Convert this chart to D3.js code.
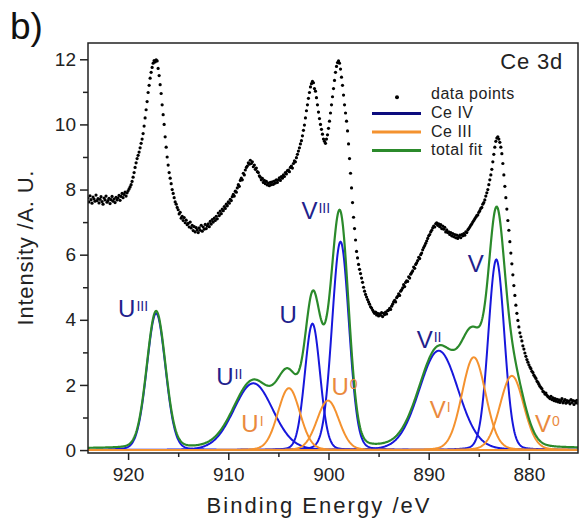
<!DOCTYPE html>
<html lang="en">
<head>
<meta charset="UTF-8">
<title>Ce 3d XPS fit</title>
<script src="https://d3js.org/d3.v7.min.js"></script>
<style>
    body {
        margin: 0;
        background: #fff;
        font-family: Arial, "Liberation Sans", sans-serif;
    }
    svg { display: block; }
    .axis text { font-size: 19px; fill: #222; font-family: Arial, "Liberation Sans", sans-serif; }
    .axis line { stroke: #222; stroke-width: 1.5px; }
</style>
</head>
<body>
<div id="chart"></div>
<script>
    // measured spectrum, one point every 0.1 eV from 924 eV downwards
    const startEnergy = 924;
    const energyStep = 0.1;
    const intensity = [
        7.74, 7.62, 7.81, 7.69, 7.58, 7.77, 7.71, 7.64, 7.83, 7.66,
        7.72, 7.59, 7.70, 7.78, 7.63, 7.55, 7.74, 7.68, 7.80, 7.61,
        7.66, 7.73, 7.57, 7.69, 7.79, 7.64, 7.71, 7.60, 7.76, 7.68,
        7.74, 7.82, 7.67, 7.79, 7.88, 7.75, 7.85, 7.92, 7.80, 7.90,
        7.96, 8.02, 8.08, 8.15, 8.25, 8.38, 8.52, 8.68, 8.82, 8.95,
        9.05, 9.15, 9.28, 9.42, 9.55, 9.72, 9.95, 10.20, 10.45, 10.70,
        10.98, 11.20, 11.42, 11.60, 11.75, 11.88, 11.96, 11.92, 11.98, 11.95,
        11.72, 11.50, 11.22, 10.95, 10.60, 10.30, 10.00, 9.62, 9.30, 9.00,
        8.75, 8.52, 8.35, 8.18, 8.00, 7.88, 7.75, 7.62, 7.55, 7.45,
        7.38, 7.25, 7.30, 7.12, 7.18, 7.05, 7.14, 6.98, 7.06, 6.92,
        6.96, 6.85, 7.00, 6.82, 6.90, 6.74, 6.86, 6.70, 6.83, 6.76,
        6.68, 6.82, 6.75, 6.90, 6.72, 6.85, 6.78, 6.93, 6.80, 6.88,
        6.95, 6.86, 7.02, 6.94, 7.08, 7.00, 7.12, 7.05, 7.18, 7.10,
        7.28, 7.20, 7.34, 7.26, 7.40, 7.35, 7.48, 7.42, 7.55, 7.50,
        7.62, 7.58, 7.70, 7.66, 7.78, 7.85, 7.80, 7.95, 7.92, 8.05,
        8.15, 8.10, 8.28, 8.35, 8.30, 8.50, 8.45, 8.60, 8.68, 8.72,
        8.82, 8.78, 8.90, 8.80, 8.85, 8.70, 8.75, 8.62, 8.66, 8.55,
        8.52, 8.42, 8.38, 8.30, 8.34, 8.22, 8.28, 8.18, 8.25, 8.14,
        8.20, 8.12, 8.22, 8.15, 8.24, 8.16, 8.26, 8.20, 8.30, 8.22,
        8.30, 8.36, 8.28, 8.40, 8.35, 8.45, 8.40, 8.52, 8.48, 8.58,
        8.60, 8.55, 8.68, 8.72, 8.66, 8.80, 8.88, 8.85, 8.98, 9.08,
        9.18, 9.28, 9.40, 9.50, 9.65, 9.82, 9.98, 10.20, 10.42, 10.60,
        10.80, 10.98, 11.15, 11.25, 11.32, 11.28, 11.10, 11.02, 10.82, 10.60,
        10.38, 10.18, 10.00, 9.85, 9.70, 9.55, 9.48, 9.42, 9.55, 9.68,
        9.88, 10.10, 10.35, 10.60, 10.85, 11.10, 11.35, 11.60, 11.78, 11.90,
        11.95, 11.88, 11.70, 11.45, 11.20, 10.90, 10.60, 10.35, 10.10, 9.80,
        9.40, 8.95, 8.50, 8.05, 7.60, 7.15, 6.80, 6.45, 6.10, 5.90,
        5.70, 5.55, 5.42, 5.28, 5.15, 5.00, 4.88, 4.78, 4.70, 4.62,
        4.55, 4.48, 4.40, 4.36, 4.30, 4.25, 4.20, 4.24, 4.15, 4.20,
        4.12, 4.18, 4.14, 4.22, 4.10, 4.20, 4.16, 4.24, 4.18, 4.28,
        4.30, 4.35, 4.32, 4.42, 4.48, 4.55, 4.60, 4.55, 4.68, 4.72,
        4.80, 4.75, 4.88, 4.92, 4.98, 5.08, 5.02, 5.15, 5.20, 5.18,
        5.32, 5.28, 5.40, 5.45, 5.50, 5.62, 5.58, 5.70, 5.75, 5.82,
        5.92, 5.88, 6.00, 6.05, 6.15, 6.22, 6.28, 6.35, 6.42, 6.50,
        6.58, 6.62, 6.70, 6.75, 6.82, 6.88, 6.85, 6.95, 6.98, 6.90,
        6.95, 6.86, 6.92, 6.80, 6.88, 6.78, 6.84, 6.70, 6.76, 6.68,
        6.70, 6.62, 6.68, 6.58, 6.65, 6.55, 6.62, 6.52, 6.60, 6.50,
        6.55, 6.60, 6.52, 6.62, 6.58, 6.65, 6.60, 6.70, 6.68, 6.76,
        6.80, 6.85, 6.90, 6.95, 7.00, 7.05, 7.10, 7.15, 7.20, 7.22,
        7.30, 7.35, 7.42, 7.45, 7.55, 7.60, 7.68, 7.80, 7.90, 8.00,
        8.15, 8.30, 8.45, 8.62, 8.85, 9.08, 9.30, 9.48, 9.58, 9.62,
        9.55, 9.45, 9.30, 9.10, 8.80, 8.45, 8.10, 7.75, 7.40, 7.05,
        6.75, 6.40, 6.05, 5.72, 5.38, 5.05, 4.75, 4.45, 4.20, 3.98,
        3.78, 3.60, 3.48, 3.35, 3.20, 3.10, 2.98, 2.88, 2.78, 2.70,
        2.62, 2.55, 2.50, 2.42, 2.38, 2.30, 2.25, 2.20, 2.12, 2.08,
        2.02, 1.96, 1.92, 1.88, 1.80, 1.78, 1.72, 1.75, 1.68, 1.64,
        1.62, 1.58, 1.65, 1.55, 1.60, 1.52, 1.58, 1.50, 1.56, 1.48,
        1.54, 1.46, 1.52, 1.58, 1.45, 1.50, 1.55, 1.44, 1.52, 1.47,
        1.50, 1.42, 1.55, 1.46, 1.52, 1.40, 1.50, 1.45, 1.53, 1.44,
        1.48
    ];

    // fitted components (pseudo-Voigt peaks)
    const peakBase   = ["U", "U", "U", "U", "U", "V", "V", "V", "V", "V"];
    const peakSup    = ["III", "II", "I", "", "0", "III", "II", "I", "", "0"];
    const peakState  = ["IV", "IV", "III", "IV", "III", "IV", "IV", "III", "IV", "III"];
    const peakCenter = [917.2, 907.5, 903.95, 901.6, 900.05, 898.8, 889.0, 885.5, 883.25, 881.7];
    const peakHeight = [4.2, 2.05, 1.9, 3.88, 1.52, 6.4, 3.05, 2.85, 5.85, 2.28];
    const peakFwhm   = [2.2, 4.6, 2.6, 1.8, 2.6, 2.0, 4.6, 2.8, 1.9, 2.8];
    const lorentzShare = 0.1;
    const fitOffset = 0.05;

    const xTicks = [920, 910, 900, 890, 880];
    const xMinorTicks = [915, 905, 895, 885];
    const yTicks = [0, 2, 4, 6, 8, 10, 12];
    const yMinorTicks = [1, 3, 5, 7, 9, 11];
    const legendLabels = ["data points", "Ce IV", "Ce III", "total fit"];

    const width = 581, height = 523;
    const plot = { left: 88, right: 578, top: 43, bottom: 453 };

    const colors = {
        IV: "#1717dc", III: "#f4922f", total: "#2b8a2b",
        IVtext: "#21218c", IIItext: "#ea8a3e", legendIV: "#0c0c7e"
    };

    const svg = d3.select("#chart").append("svg")
        .attr("width", width).attr("height", height);

    const x = d3.scaleLinear().domain([924, 875.1]).range([plot.left, plot.right]);
    const y = d3.scaleLinear().domain([-0.09, 12.5]).range([plot.bottom, plot.top]);

    svg.append("defs").append("clipPath").attr("id", "clip")
        .append("rect")
        .attr("x", plot.left).attr("y", plot.top)
        .attr("width", plot.right - plot.left).attr("height", plot.bottom - plot.top);

    function peakValue(i, e) {
        const r = (e - peakCenter[i]) / (peakFwhm[i] / 2);
        const g = Math.exp(-Math.LN2 * r * r);
        const l = 1 / (1 + r * r);
        return peakHeight[i] * ((1 - lorentzShare) * g + lorentzShare * l);
    }

    const grid = d3.range(924, 875.05, -0.05);
    const line = d3.line().x(d => x(d[0])).y(d => y(d[1]));
    const fits = svg.append("g").attr("clip-path", "url(#clip)");

    // components: Ce IV first, Ce III on top
    ["IV", "III"].forEach(state => {
        peakCenter.forEach((c, i) => {
            if (peakState[i] !== state) return;
            fits.append("path")
                .datum(grid.map(e => [e, peakValue(i, e)]))
                .attr("fill", "none")
                .attr("stroke", colors[state])
                .attr("stroke-width", 2)
                .attr("d", line);
        });
    });

    fits.append("path")
        .datum(grid.map(e => [e, fitOffset + d3.sum(peakCenter, (c, i) => peakValue(i, e))]))
        .attr("fill", "none")
        .attr("stroke", colors.total)
        .attr("stroke-width", 2.2)
        .attr("d", line);

    // data points
    svg.append("g").attr("clip-path", "url(#clip)")
        .selectAll("circle")
        .data(intensity)
        .enter().append("circle")
        .attr("cx", (d, i) => x(startEnergy - i * energyStep))
        .attr("cy", d => y(d))
        .attr("r", 1.6)
        .attr("fill", "#000");

    // peak labels
    const labelAt = [
        [921.0, 4.1], [911.2, 2.0], [908.7, 0.56], [904.9, 3.89], [899.7, 1.69],
        [902.7, 7.11], [891.2, 3.12], [889.9, 0.97], [886.1, 5.47], [879.4, 0.56]
    ];
    peakBase.forEach((b, i) => {
        const t = svg.append("text")
            .attr("x", x(labelAt[i][0]))
            .attr("y", y(labelAt[i][1]))
            .attr("font-size", 24)
            .attr("fill", peakState[i] === "IV" ? colors.IVtext : colors.IIItext);
        t.append("tspan").text(b);
        if (peakSup[i]) {
            t.append("tspan")
                .attr("dy", -6)
                .attr("dx", 1)
                .attr("font-size", 14)
                .text(peakSup[i]);
        }
    });

    // axes
    const gx = svg.append("g").attr("class", "axis")
        .attr("transform", `translate(0,${plot.bottom})`)
        .call(d3.axisBottom(x).tickValues(xTicks).tickSize(7).tickPadding(8).tickSizeOuter(0));
    gx.select(".domain").remove();
    const gxm = svg.append("g").attr("class", "axis")
        .attr("transform", `translate(0,${plot.bottom})`)
        .call(d3.axisBottom(x).tickValues(xMinorTicks).tickSize(4).tickFormat("").tickSizeOuter(0));
    gxm.select(".domain").remove();

    const gy = svg.append("g").attr("class", "axis")
        .attr("transform", `translate(${plot.left},0)`)
        .call(d3.axisLeft(y).tickValues(yTicks).tickSize(8).tickPadding(4).tickSizeOuter(0));
    gy.select(".domain").remove();
    const gym = svg.append("g").attr("class", "axis")
        .attr("transform", `translate(${plot.left},0)`)
        .call(d3.axisLeft(y).tickValues(yMinorTicks).tickSize(5).tickFormat("").tickSizeOuter(0));
    gym.select(".domain").remove();

    svg.append("rect")
        .attr("x", plot.left).attr("y", plot.top)
        .attr("width", plot.right - plot.left).attr("height", plot.bottom - plot.top)
        .attr("fill", "none").attr("stroke", "#222").attr("stroke-width", 1.5);

    // titles
    svg.append("text")
        .attr("x", 318).attr("y", 513)
        .attr("text-anchor", "middle")
        .attr("font-size", 22)
        .attr("textLength", 223)
        .attr("fill", "#222")
        .text("Binding Energy /eV");

    svg.append("text")
        .attr("transform", `translate(33,${(plot.top + plot.bottom) / 2}) rotate(-90)`)
        .attr("text-anchor", "middle")
        .attr("font-size", 22)
        .attr("textLength", 155)
        .attr("fill", "#222")
        .text("Intensity /A. U.");

    svg.append("text")
        .attr("x", 10).attr("y", 39)
        .attr("font-size", 37)
        .attr("fill", "#111")
        .text("b)");

    svg.append("text")
        .attr("x", 563).attr("y", 69)
        .attr("text-anchor", "end")
        .attr("font-size", 22)
        .attr("letter-spacing", 0.8)
        .attr("fill", "#222")
        .text("Ce 3d");

    // legend
    const legend = svg.append("g");
    const legendColors = [null, colors.legendIV, colors.III, colors.total];
    legendLabels.forEach((name, i) => {
        const base = 99.3 + i * 18.6;
        if (i === 0) {
            legend.append("circle").attr("cx", 397).attr("cy", base - 2).attr("r", 2).attr("fill", "#000");
        } else {
            legend.append("line")
                .attr("x1", 372).attr("x2", 421)
                .attr("y1", base - 4.5).attr("y2", base - 4.5)
                .attr("stroke", legendColors[i]).attr("stroke-width", 3);
        }
        legend.append("text")
            .attr("x", 431).attr("y", base)
            .attr("font-size", 16)
            .attr("letter-spacing", 0.5)
            .attr("fill", "#222")
            .text(name);
    });
</script>
</body>
</html>
